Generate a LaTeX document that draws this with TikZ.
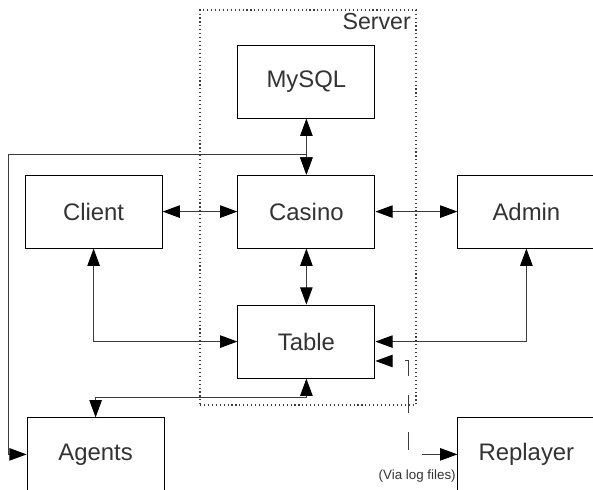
\documentclass[tikz,border=0pt]{standalone}
\usepackage{fontspec}
\setmainfont{Liberation Sans}
\usepackage{xcolor}
\usepackage{tikz}
\usetikzlibrary{arrows.meta, positioning, calc}
\definecolor{linegray}{RGB}{60, 60, 60}
\definecolor{textgray}{RGB}{51, 51, 51}

\begin{document}
\begin{tikzpicture}[>={Triangle[length=4.3mm, width=3.1mm, color=black]},
    block/.style={draw=black, line width=0.7pt, fill=white, minimum width=3.425cm, minimum height=1.825cm, text=textgray, font=\fontsize{17}{20}\selectfont},
    link/.style={<->, draw=linegray, line width=0.7pt},
    loglink/.style={link, dash pattern=on 0.45cm off 0.475cm}]
    \clip (0,0) rectangle (14.825,12.25);
    \fill[white] (0,0) rectangle (14.825,12.25);
    % server boundary
    \node[draw=linegray, dotted, line width=0.8pt, minimum width=5.4cm, minimum height=9.875cm] (server) at (7.7,7.0625) {};
    \node[anchor=north east, inner sep=1pt, text=textgray, font=\fontsize{16.5}{20}\selectfont] (serverlabel) at ([xshift=-0.1cm, yshift=-0.05cm]server.north east) {Server};
    % components
    \node[block] (mysql) at (7.66,10.21) {MySQL};
    \node[block] (casino) at (7.66,6.96) {Casino};
    \node[block] (client) at (2.34,6.96) {Client};
    \node[block] (admin) at (13.16,6.96) {Admin};
    \node[block] (table) at (7.66,3.71) {Table};
    \node[block] (agents) at (2.39,0.89) {Agents};
    \node[block] (replayer) at (13.16,0.89) {Replayer};
    \node[text=textgray, font=\fontsize{9.5}{11}\selectfont] (vialog) at (10.43,0.34) {(Via log files)};
    % bends
    \coordinate (agbus) at (0.2,8.375);
    \coordinate (logbend) at (10.2,3.225);
    % connectors
    \draw[link] (mysql) -- (casino);
    \draw[link] (client) -- (casino);
    \draw[link] (casino) -- (admin);
    \draw[link] (casino) -- (table);
    \draw[link] (client.south) |- (table.west);
    \draw[link] (admin.south) |- (table.east);
    \draw[link] (table.south) -- ++(0,-0.475) -| (agents.north);
    \draw[link] (agents.west) -| (agbus) -| (casino.north);
    \draw[loglink] (replayer.west) -| (logbend) -- (table.east |- logbend);
\end{tikzpicture}
\end{document}
